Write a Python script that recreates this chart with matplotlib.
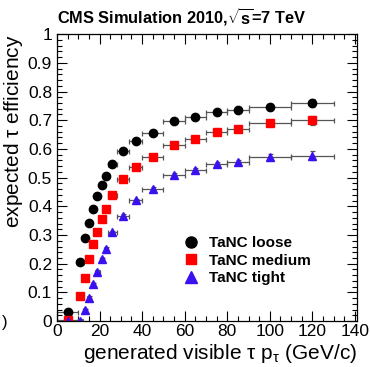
import matplotlib
matplotlib.use('Agg')
import matplotlib.pyplot as plt
from matplotlib.ticker import MultipleLocator
from matplotlib.lines import Line2D
import numpy as np

plt.rcParams['font.family'] = ['Liberation Sans', 'DejaVu Sans']
plt.rcParams['mathtext.fontset'] = 'custom'
plt.rcParams['mathtext.rm'] = 'Liberation Sans'
plt.rcParams['mathtext.it'] = 'Liberation Sans'
plt.rcParams['mathtext.bf'] = 'Liberation Sans:bold'

# bin centres and half widths (GeV/c)
pt = [5, 11, 13, 15, 17, 19, 21, 23, 26, 31, 37, 45, 55, 65, 75, 85, 100, 120]
pt_err = [5, 1, 1, 1, 1, 1, 1, 1, 2, 3, 3, 5, 5, 5, 5, 5, 10, 10]

eff_loose = [0.032, 0.207, 0.288, 0.343, 0.391, 0.436, 0.475, 0.505, 0.547,
             0.592, 0.628, 0.654, 0.696, 0.711, 0.730, 0.735, 0.747, 0.760]
eff_medium = [0.003, 0.089, 0.151, 0.215, 0.268, 0.312, 0.357, 0.391, 0.441,
              0.494, 0.538, 0.571, 0.614, 0.635, 0.660, 0.670, 0.689, 0.700]
eff_tight = [0.001, 0.001, 0.038, 0.081, 0.129, 0.172, 0.216, 0.253, 0.310,
             0.368, 0.422, 0.462, 0.510, 0.528, 0.549, 0.555, 0.572, 0.577]
eff_yerr = [0.004, 0.005, 0.005, 0.005, 0.005, 0.005, 0.005, 0.005, 0.005,
            0.005, 0.005, 0.005, 0.006, 0.006, 0.007, 0.008, 0.010, 0.015]

labels = ['TaNC loose', 'TaNC medium', 'TaNC tight']
colors = ['black', '#ff0000', '#3b10f0']
markers = ['o', 's', '^']
sizes = [6, 5.5, 6]

fig = plt.figure(figsize=(3.70, 3.67), dpi=100)
ax = fig.add_axes([0.154, 0.125, 0.811, 0.782])

ekw = dict(ls='none', ecolor='#555555', elinewidth=0.9, capsize=1.8, capthick=0.9)
for eff, c, m, s in zip([eff_loose, eff_medium, eff_tight], colors, markers, sizes):
    ax.errorbar(pt, eff, xerr=pt_err, yerr=eff_yerr, fmt=m, color=c, ms=s, **ekw)

ax.set_xlim(0, 141)
ax.set_ylim(0, 1)
ax.xaxis.set_major_locator(MultipleLocator(20))
ax.xaxis.set_minor_locator(MultipleLocator(5))
ax.yaxis.set_minor_locator(MultipleLocator(0.02))
ax.set_yticks(np.arange(0, 1.01, 0.1))
ax.set_yticklabels(['0', '0.1', '0.2', '0.3', '0.4', '0.5', '0.6', '0.7', '0.8', '0.9', '1'])
ax.tick_params(which='both', direction='in', top=True, right=True, labelsize=12.5, width=0.8)
ax.tick_params(which='major', length=7)
ax.tick_params(which='minor', length=3.5)
ax.tick_params(axis='x', pad=2)
for s in ax.spines.values():
    s.set_linewidth(0.9)

ax.set_xlabel(r'generated visible $\tau$ p$_{\tau}$ (GeV/c)', fontsize=15, loc='right', labelpad=2)
ax.set_ylabel(r'expected $\tau$ efficiency', fontsize=15, loc='top', labelpad=2)

fig.text(0.49, 0.953, r'CMS Simulation 2010,$\mathbf{\sqrt{s}}$=7 TeV', fontsize=11.8,
         fontweight='bold', ha='center', va='center')

handles = [Line2D([], [], ls='none', marker=m, color=c, ms=s + 2)
           for c, m, s in zip(colors, markers, sizes)]
leg = ax.legend(handles, labels, loc='upper left', bbox_to_anchor=(0.395, 0.318),
                frameon=False, prop={'weight': 'bold', 'size': 11},
                handletextpad=0.62, labelspacing=0.24, handlelength=1.2,
                borderaxespad=0)

fig.text(0.005, 0.108, ')', fontsize=12)

fig.savefig('out.png', dpi=100)
